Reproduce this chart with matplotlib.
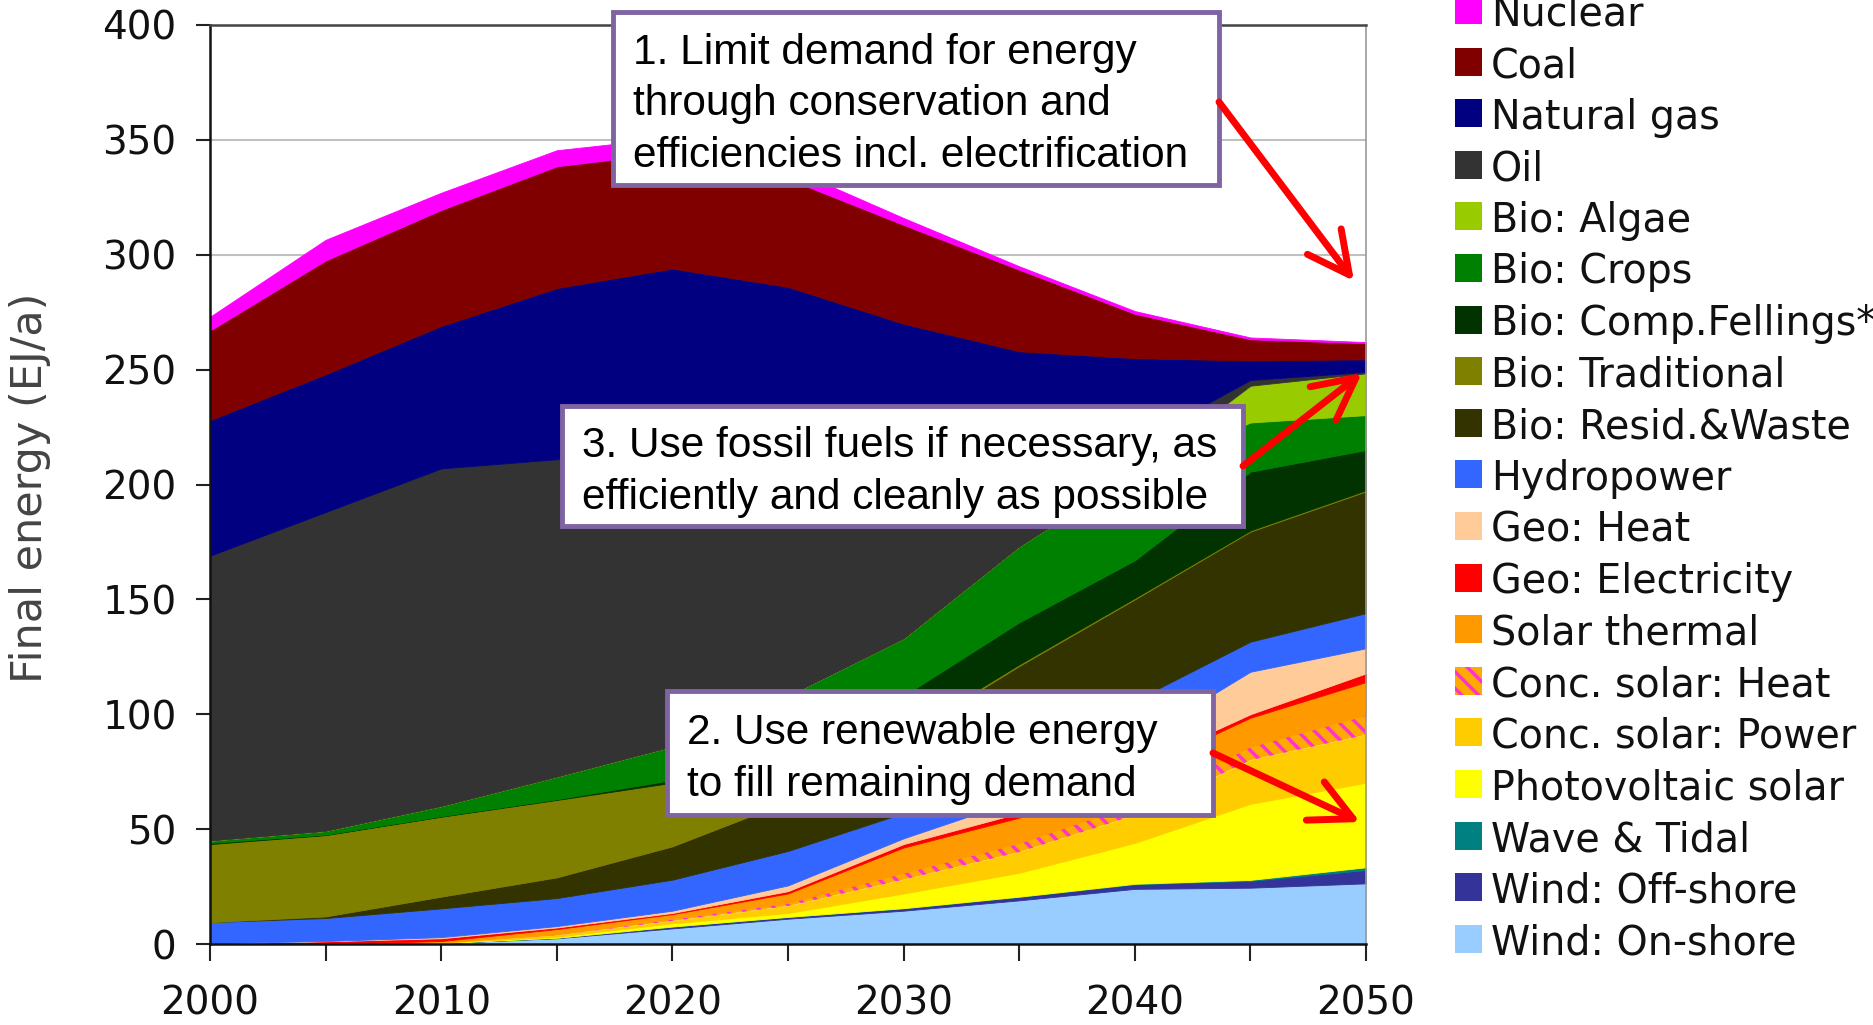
"""Final energy supply by source, 2000-2050, stacked areas with three callouts."""

import matplotlib
matplotlib.use("Agg")
import matplotlib.pyplot as plt
from matplotlib.patches import Rectangle, FancyArrowPatch

# ---- data (EJ/a per source, 5-year steps) ----
years = [2000, 2005, 2010, 2015, 2020, 2025, 2030, 2035, 2040, 2045, 2050]

wind_onshore = [0, 0, 0.4, 2.5, 6.8, 11.0, 14.5, 19.0, 24.0, 24.5, 26.4]
wind_offshore = [0, 0, 0, 0.2, 0.8, 0.8, 1.0, 1.5, 2.0, 3.0, 5.8]
wave_tidal = [0, 0, 0, 0, 0, 0, 0.1, 0.1, 0.2, 0.4, 1.2]
pv_solar = [0, 0, 0.1, 0.5, 1.4, 1.7, 6.4, 10.4, 17.8, 33.1, 36.8]
csp_power = [0, 0, 0.1, 0.6, 1.0, 3.0, 6.0, 9.0, 12.0, 19.0, 20.8]
csp_heat = [0, 0, 0.1, 0.4, 1.0, 1.5, 3.0, 4.0, 5.0, 6.0, 8.7]
solar_thermal = [0, 0, 0.6, 2.3, 2.0, 4.0, 11.0, 11.0, 14.0, 12.5, 14.3]
geo_elec = [0.3, 1.2, 1.2, 0.7, 0.5, 1.0, 1.5, 2.0, 2.0, 1.5, 3.8]
geo_heat = [0, 0.1, 0.5, 0.6, 1.0, 2.5, 2.5, 6.0, 11.0, 18.5, 10.9]
hydro = [9.2, 10.0, 12.5, 12.2, 13.5, 15.0, 11.0, 16.0, 18.0, 13.1, 15.3]
bio_resid = [0, 0.7, 5.1, 9.0, 14.5, 21.5, 33.0, 42.0, 44.0, 47.9, 53.0]
bio_trad = [34.0, 35.4, 34.8, 33.7, 27.7, 13.0, 1.0, 0.7, 0.6, 0.5, 0.5]
bio_fellings = [0.5, 0.2, 0.2, 0.3, 1.2, 11.0, 17.0, 18.3, 16.4, 25.6, 17.5]
bio_crops = [1.0, 1.6, 4.4, 9.8, 14.6, 22.0, 25.0, 33.0, 38.0, 21.4, 15.2]
bio_algae = [0, 0, 0, 0, 0, 0, 0, 0, 0, 16.0, 18.2]
oil = [124.0, 138.8, 147.0, 138.2, 128.0, 106.0, 81.0, 42.0, 13.0, 2.5, 0.6]
natural_gas = [59.0, 60.0, 62.0, 74.5, 80.0, 72.0, 56.0, 43.0, 37.0, 8.5, 5.5]
coal = [39.0, 49.5, 50.5, 53.0, 50.5, 47.0, 43.0, 35.5, 19.3, 9.2, 7.0]
nuclear = [6.0, 9.0, 7.5, 7.0, 6.5, 5.0, 3.0, 1.5, 1.2, 0.8, 0.5]

# stacking order, bottom to top
labels = ["Wind: On-shore", "Wind: Off-shore", "Wave & Tidal", "Photovoltaic solar",
          "Conc. solar: Power", "Conc. solar: Heat", "Solar thermal", "Geo: Electricity",
          "Geo: Heat", "Hydropower", "Bio: Resid.&Waste", "Bio: Traditional",
          "Bio: Comp.Fellings*", "Bio: Crops", "Bio: Algae", "Oil", "Natural gas",
          "Coal", "Nuclear"]
series = [wind_onshore, wind_offshore, wave_tidal, pv_solar, csp_power, csp_heat,
          solar_thermal, geo_elec, geo_heat, hydro, bio_resid, bio_trad, bio_fellings,
          bio_crops, bio_algae, oil, natural_gas, coal, nuclear]
colors = ["#99CCFF", "#333399", "#008080", "#FFFF00", "#FFCC00", "#FFAA00", "#FF9900",
          "#FF0000", "#FFCC99", "#3366FF", "#333300", "#808000", "#003300", "#008000",
          "#99CC00", "#333333", "#000080", "#800000", "#FF00FF"]
HATCHED = "Conc. solar: Heat"
HATCH_COLOR = "#FF33CC"

notes = [
    ("1. Limit demand for energy\nthrough conservation and\nefficiencies incl. electrification",
     (613, 12, 1219, 185), (1219, 102), (1354, 281)),
    ("3. Use fossil fuels if necessary, as\nefficiently and cleanly as possible",
     (562, 406, 1243, 526), (1243, 466), (1362, 373)),
    ("2. Use renewable energy\nto fill remaining demand",
     (667, 691, 1213, 815), (1213, 753), (1360, 822)),
]

W, H = 1874, 1025
plt.rcParams["font.family"] = ["DejaVu Sans"]
plt.rcParams["hatch.linewidth"] = 2.5

fig = plt.figure(figsize=(W / 100, H / 100), dpi=100)


def fx(px):
    return px / W


def fy(py):
    return 1 - py / H


ax = fig.add_axes([fx(210), fy(944), fx(1366) - fx(210), fy(25) - fy(944)])

polys = ax.stackplot(years, *series, colors=colors, zorder=2)
for poly, lab, col in zip(polys, labels, colors):
    if lab == HATCHED:
        poly.set_hatch("\\\\")
        poly.set_edgecolor(HATCH_COLOR)
        poly.set_linewidth(0)
    else:
        poly.set_edgecolor(col)
        poly.set_linewidth(0.6)

ax.set_xlim(2000, 2050)
ax.set_ylim(0, 400)
ax.set_yticks(range(0, 401, 50))
ax.set_xticks(range(2000, 2051, 10))
ax.set_xticks(range(2005, 2050, 10), minor=True)
ax.yaxis.grid(True, color="#C0C0C0", linewidth=1.5, zorder=0)
ax.set_axisbelow(True)
ax.tick_params(axis="both", which="both", direction="out", color="#222222",
               width=1.5, labelsize=28, labelcolor="#111111")
ax.tick_params(axis="y", length=10, pad=14)
ax.tick_params(axis="x", which="both", length=12, pad=17)
for side in ("left", "bottom"):
    ax.spines[side].set_color("#111111")
    ax.spines[side].set_linewidth(1.8)
ax.spines["top"].set_color("#444444")
ax.spines["top"].set_linewidth(1.8)
ax.spines["right"].set_color("#999999")
ax.spines["right"].set_linewidth(1.2)

fig.text(fx(30), fy(488), "Final energy (EJ/a)", rotation=90, ha="center", va="center",
         fontsize=31, color="#444444")

# legend, top entry first (reverse of stacking order)
row0, step = 10, 51.6
for i, (lab, col) in enumerate(zip(labels[::-1], colors[::-1])):
    yc = row0 + i * step
    sq = Rectangle((fx(1455), fy(yc + 14)), fx(27), 28 / H, transform=fig.transFigure,
                   facecolor=col, edgecolor="none", clip_on=False)
    if lab == HATCHED:
        sq.set_hatch("\\\\")
        sq.set_edgecolor(HATCH_COLOR)
        sq.set_linewidth(0)
    fig.add_artist(sq)
    fig.text(fx(1491), fy(yc), lab, ha="left", va="center_baseline", fontsize=28.5,
             color="#111111")

# callout boxes with arrows
for text, (x0, y0, x1, y1), tail, head in notes:
    box = Rectangle((fx(x0), fy(y1)), fx(x1) - fx(x0), fy(y0) - fy(y1),
                    transform=fig.transFigure, facecolor="white", edgecolor="#8064A2",
                    linewidth=3.5, zorder=5)
    fig.add_artist(box)
    fig.text(fx(x0 + 20), fy((y0 + y1) / 2 + 6), text, ha="left", va="center",
             fontsize=30.5, family=["Liberation Sans"], linespacing=1.36, zorder=6)
    arr = FancyArrowPatch((fx(tail[0]), fy(tail[1])), (fx(head[0]), fy(head[1])),
                          transform=fig.transFigure,
                          arrowstyle="->,head_length=0.75,head_width=0.38",
                          mutation_scale=40, color="#FF0000", linewidth=5,
                          shrinkA=0, shrinkB=0, zorder=6)
    fig.add_artist(arr)

fig.savefig("out.png", dpi=100)
